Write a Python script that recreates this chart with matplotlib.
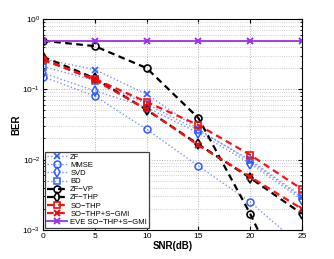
import matplotlib
matplotlib.use("Agg")
import matplotlib.pyplot as plt
import numpy as np

plt.rcParams["font.family"] = ["Liberation Sans", "DejaVu Sans"]
plt.rcParams["mathtext.fontset"] = "custom"
plt.rcParams["mathtext.rm"] = "Liberation Sans"

snr = [0, 5, 10, 15, 20, 25]
labels = ["ZF", "MMSE", "SVD", "BD", "ZF\u2212VP", "ZF\u2212THP", "SO\u2212THP",
          "SO\u2212THP+S\u2212GMI", "EVE SO\u2212THP+S\u2212GMI"]
zf = [0.27, 0.19, 0.085, 0.027, 0.0095, 0.0029]
mmse = [0.15, 0.08, 0.027, 0.0081, 0.0025, 0.00058]
svd = [0.17, 0.095, 0.055, 0.024, 0.0088, 0.0027]
bd = [0.21, 0.133, 0.062, 0.026, 0.0099, 0.0030]
zf_vp = [0.49, 0.41, 0.20, 0.039, 0.0017, 0.00005]
zf_thp = [0.29, 0.143, 0.051, 0.0165, 0.0055, 0.0017]
so_thp = [0.26, 0.14, 0.066, 0.031, 0.0117, 0.0038]
so_thp_sgmi = [0.27, 0.135, 0.052, 0.016, 0.0057, 0.0020]
eve = [0.49, 0.49, 0.49, 0.49, 0.49, 0.49]

fig = plt.figure(figsize=(3.34, 2.59), dpi=100)
ax = fig.add_axes([0.129, 0.112, 0.775, 0.815])

blue_line = "#7f95f5"
blue_mk = "#2f5cff"
series = [
    (zf, dict(color=blue_line, ls=":", lw=1.0, marker="x", mec=blue_mk, mfc="none", ms=4, mew=1.2)),
    (mmse, dict(color=blue_line, ls=":", lw=1.0, marker="o", mec=blue_mk, mfc="none", ms=5, mew=1.1)),
    (svd, dict(color=blue_line, ls=":", lw=1.0, marker="d", mec=blue_mk, mfc="none", ms=5, mew=1.1)),
    (bd, dict(color=blue_line, ls=":", lw=1.0, marker="s", mec=blue_mk, mfc="none", ms=4.5, mew=1.1)),
    (zf_vp, dict(color="black", ls=(0, (3, 2)), lw=1.6, marker="o", mec="black", mfc="none", ms=5, mew=1.2)),
    (zf_thp, dict(color="black", ls=(0, (3, 2)), lw=1.6, marker="d", mec="black", mfc="none", ms=5, mew=1.2)),
    (so_thp, dict(color="#ff1010", ls=(0, (3, 2)), lw=1.6, marker="s", mec="#ee1010", mfc="none", ms=4.5, mew=1.2)),
    (so_thp_sgmi, dict(color="#ff1010", ls=(0, (3, 2)), lw=1.6, marker="x", mec="#dd1010", mfc="none", ms=4, mew=1.4)),
    (eve, dict(color="#9a30f0", ls="-", lw=1.3, marker="x", mec="#9a30f0", ms=4, mew=1.4)),
]
for (vals, kw), lab in zip(series, labels):
    ax.plot(snr, vals, label=lab, **kw)

ax.set_yscale("log")
ax.set_xlim(0, 25)
ax.set_ylim(1e-3, 1)
ax.set_xticks(snr)
ax.tick_params(which="both", direction="in", top=True, right=True, labelsize=6, pad=2)
ax.tick_params(which="major", length=3)
ax.tick_params(which="minor", length=1.5)
ax.grid(True, which="major", ls=":", color="#b0b0b0", lw=0.7)
ax.grid(True, which="minor", axis="y", ls=":", color="#c0c0c0", lw=0.6)
for s in ax.spines.values():
    s.set_linewidth(0.8)
ax.set_xlabel("SNR(dB)", fontsize=7, fontweight="bold", labelpad=1)
ax.set_ylabel("BER", fontsize=7, fontweight="bold", labelpad=1)

leg = ax.legend(loc="lower left", fontsize=5.5, handlelength=2.6, handletextpad=0.4,
                labelspacing=0.1, borderpad=0.25, fancybox=False, framealpha=1,
                edgecolor="#404040", borderaxespad=0.3)
leg.get_frame().set_linewidth(0.9)

fig.savefig("out.png", dpi=100)
